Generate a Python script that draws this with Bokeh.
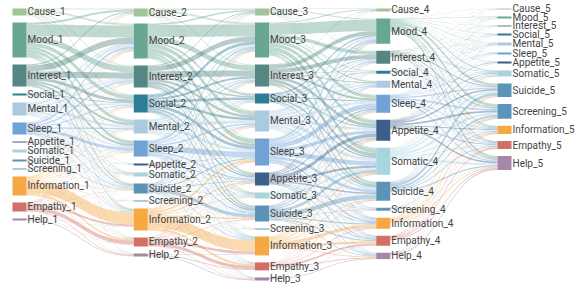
from bokeh.plotting import figure
from bokeh.models import Range1d
from bokeh.embed import file_html
from bokeh.resources import INLINE
from bokeh.core.properties import value
import numpy as np

# ---------------- data ----------------
categories = ["Cause", "Mood", "Interest", "Social", "Mental", "Sleep", "Appetite",
              "Somatic", "Suicide", "Screening", "Information", "Empathy", "Help"]
stages = [1, 2, 3, 4, 5]

cat_colors = ["#a3c498", "#68a892", "#548682", "#2e7c98", "#aacae2", "#70a2d6", "#3c5e8a",
              "#a8d4de", "#5c94b8", "#5b95be", "#f6a842", "#d27068", "#a886a6"]

# node sizes (per stage)
nodes_1 = [7, 35, 22, 2, 13, 12, 1, 3, 2, 1, 19, 9, 2]
nodes_2 = [8, 35, 22, 18, 14, 16, 2, 4, 10, 1, 22, 9, 3]
nodes_3 = [7, 35, 22, 10, 21, 27, 13, 6, 16, 1, 19, 8, 3]
nodes_4 = [3, 25, 13, 3, 7, 18, 21, 27, 19, 3, 11, 10, 6]
nodes_5 = [1, 2, 1, 2, 3, 2, 2, 6, 13, 15, 8, 8, 14]

# flows: rows = source category (stage k), columns = target category (stage k+1)
flows_1_2 = [
    [1, 2, 1, 1, 0.5, 0.5, 0, 0, 0.5, 0, 0.5, 0, 0],
    [2, 12, 6, 4, 3, 3, 0.3, 0.7, 1.5, 0.2, 1.3, 0.5, 0.5],
    [1, 6, 6, 3, 2, 2, 0.2, 0.5, 1, 0, 0.3, 0, 0],
    [0, 0.5, 0.3, 0.7, 0.2, 0.1, 0, 0, 0.1, 0, 0.1, 0, 0],
    [0.5, 2.5, 1.5, 1.5, 2.5, 1.5, 0.2, 0.4, 1, 0.1, 0.8, 0.3, 0.2],
    [0.5, 2, 1.5, 1, 1.3, 3, 0.2, 0.5, 1, 0.1, 0.6, 0.2, 0.1],
    [0, 0.2, 0.1, 0.1, 0.1, 0.2, 0.1, 0.1, 0.1, 0, 0, 0, 0],
    [0.2, 0.5, 0.3, 0.3, 0.3, 0.4, 0.1, 0.3, 0.3, 0, 0.2, 0.1, 0],
    [0, 0.3, 0.2, 0.2, 0.2, 0.2, 0, 0.1, 0.6, 0, 0.1, 0.1, 0],
    [0, 0.2, 0.1, 0.1, 0.1, 0.1, 0, 0, 0.1, 0.1, 0.1, 0.1, 0],
    [0.5, 1, 0.5, 0.7, 0.5, 0.5, 0.1, 0.2, 0.4, 0.3, 12, 1.8, 0.5],
    [0.2, 0.5, 0.3, 0.3, 0.2, 0.3, 0, 0.1, 0.3, 0.1, 2, 4, 0.7],
    [0, 0.1, 0.1, 0.1, 0.1, 0.1, 0, 0, 0.1, 0, 0.3, 0.3, 0.8],
]
flows_2_3 = [
    [1.5, 2, 1, 0.5, 0.8, 0.8, 0.3, 0.2, 0.4, 0, 0.3, 0.1, 0.1],
    [1.5, 12, 5, 2, 4, 4.5, 2, 0.8, 2, 0.2, 0.5, 0.3, 0.2],
    [0.8, 5, 6, 1.5, 2.5, 2.5, 1.2, 0.5, 1.5, 0, 0.3, 0.1, 0.1],
    [0.5, 3, 2, 2.5, 2.5, 3, 1.5, 0.5, 1.5, 0.1, 0.5, 0.2, 0.2],
    [0.5, 2, 1.5, 0.8, 3, 2.5, 1, 0.5, 1.2, 0.1, 0.5, 0.2, 0.2],
    [0.4, 2, 1.2, 0.6, 1.5, 5.5, 1.5, 0.6, 1.5, 0.1, 0.6, 0.3, 0.2],
    [0, 0.3, 0.2, 0.1, 0.2, 0.3, 0.5, 0.1, 0.2, 0, 0.1, 0, 0],
    [0.1, 0.5, 0.3, 0.2, 0.4, 0.6, 0.4, 0.6, 0.4, 0, 0.3, 0.1, 0.1],
    [0.2, 1, 0.6, 0.3, 0.8, 1.2, 0.7, 0.4, 3.5, 0.1, 0.7, 0.3, 0.2],
    [0, 0.1, 0.1, 0, 0.1, 0.2, 0.1, 0, 0.1, 0.1, 0.2, 0, 0],
    [0.3, 0.8, 0.6, 0.4, 0.8, 2, 1.3, 0.6, 1.5, 0.2, 11, 2, 0.5],
    [0.1, 0.3, 0.2, 0.1, 0.3, 0.6, 0.4, 0.2, 0.5, 0.1, 2.5, 3.2, 0.5],
    [0, 0.1, 0.1, 0, 0.1, 0.2, 0.1, 0, 0.2, 0, 0.5, 0.9, 0.8],
]
flows_3_4 = [
    [0.6, 1.3, 0.6, 0.1, 0.3, 0.6, 0.7, 0.9, 0.5, 0.1, 0.1, 0.1, 0.1],
    [0.9, 11.3, 3.5, 0.6, 1.2, 3.2, 3.5, 4.5, 2.2, 0.3, 0.8, 0.6, 0.4],
    [0.4, 4, 4, 0.4, 0.9, 2, 3, 3.3, 1.8, 0.2, 0.4, 0.4, 0.2],
    [0.1, 1.4, 0.7, 0.6, 0.4, 0.9, 1.1, 1.6, 1.2, 0.2, 0.4, 0.3, 0.1],
    [0.3, 2.5, 1.2, 0.4, 1.6, 2.2, 2.4, 3.2, 2.1, 0.3, 1.2, 0.8, 0.8],
    [0.2, 2.2, 1.1, 0.3, 1.1, 5, 3.3, 4.5, 3, 0.3, 1.8, 1.2, 1.0],
    [0.1, 0.8, 0.4, 0.2, 0.4, 1.1, 3.5, 2.2, 1.4, 0.3, 0.6, 0.6, 0.4],
    [0.1, 0.4, 0.2, 0.1, 0.2, 0.5, 0.8, 2.0, 0.7, 0.2, 0.3, 0.3, 0.2],
    [0.1, 0.7, 0.5, 0.1, 0.4, 1.0, 1.2, 2.8, 4.5, 0.5, 1.3, 1.2, 0.7],
    [0, 0.1, 0.1, 0, 0.1, 0.1, 0.1, 0.2, 0.1, 0.1, 0.1, 0, 0],
    [0.1, 0.4, 0.3, 0.1, 0.3, 0.8, 1.0, 1.3, 0.9, 0.3, 3.2, 2.4, 0.9],
    [0, 0.1, 0.1, 0, 0.1, 0.3, 0.3, 0.4, 0.4, 0.1, 0.6, 1.8, 0.8],
    [0, 0, 0, 0, 0, 0.1, 0.1, 0.2, 0.2, 0.1, 0.2, 0.3, 0.8],
]
flows_4_5 = [
    [0.1, 0.1, 0, 0.1, 0.1, 0, 0.1, 0.1, 0.2, 0.3, 0.1, 0.1, 0.2],
    [0.2, 0.5, 0.2, 0.3, 0.4, 0.3, 0.3, 1.0, 2.2, 2.8, 1.2, 1.1, 2.5],
    [0.1, 0.2, 0.2, 0.1, 0.2, 0.1, 0.1, 0.5, 1.1, 1.2, 0.6, 0.6, 1.0],
    [0, 0.1, 0, 0.2, 0.1, 0, 0, 0.1, 0.2, 0.3, 0.1, 0.2, 0.2],
    [0.1, 0.1, 0.1, 0.1, 0.4, 0.1, 0.1, 0.2, 0.5, 0.5, 0.2, 0.2, 0.4],
    [0.1, 0.2, 0.1, 0.2, 0.3, 0.5, 0.2, 0.6, 1.3, 1.6, 0.8, 0.8, 1.3],
    [0.1, 0.2, 0.1, 0.2, 0.3, 0.2, 0.6, 0.7, 1.5, 1.8, 0.9, 0.8, 1.6],
    [0.1, 0.3, 0.1, 0.3, 0.4, 0.3, 0.3, 1.5, 2, 2.4, 1.2, 1.1, 2.0],
    [0.1, 0.2, 0.1, 0.2, 0.3, 0.2, 0.2, 0.6, 3.0, 2.0, 0.9, 0.9, 1.3],
    [0, 0, 0, 0, 0.1, 0, 0, 0.1, 0.2, 0.5, 0.2, 0.1, 0.3],
    [0, 0.1, 0.1, 0.1, 0.1, 0.1, 0.1, 0.3, 0.5, 0.8, 1.2, 0.6, 1.0],
    [0, 0, 0, 0.1, 0.1, 0.1, 0, 0.2, 0.4, 0.5, 0.5, 1.1, 1.0],
    [0, 0, 0, 0, 0, 0, 0, 0.1, 0.3, 0.3, 0.3, 0.3, 1.2],
]

node_sizes = [nodes_1, nodes_2, nodes_3, nodes_4, nodes_5]
flows = [flows_1_2, flows_2_3, flows_3_4, flows_4_5]

# ---------------- layout ----------------
W, H = 578, 285
node_w = 14
x_first, x_last = 12, 497
top, bottom = 8, 280
gap = 7
n = len(categories)
ncol = len(stages)

vals = []
for k in range(ncol):
    col = []
    for i in range(n):
        v = node_sizes[k][i]
        if k > 0:
            v = max(v, sum(flows[k - 1][s][i] for s in range(n)))
        if k < ncol - 1:
            v = max(v, sum(flows[k][i]))
        col.append(v)
    vals.append(col)

ky = min((bottom - top - (n - 1) * gap) / sum(c) for c in vals)
xs_col = [x_first + k * (x_last - x_first) / (ncol - 1) for k in range(ncol)]

node_top = []
for k in range(ncol):
    y = top
    tops = []
    for i in range(n):
        tops.append(y)
        y += vals[k][i] * ky + gap
    node_top.append(tops)

# links
t = np.linspace(0, 1, 40)
def bez(a, b):
    return (1 - t) ** 3 * a + 3 * (1 - t) ** 2 * t * a + 3 * (1 - t) * t ** 2 * b + t ** 3 * b

lx, ly, lc = [], [], []
for k in range(ncol - 1):
    M = flows[k]
    in_start = {}
    for j in range(n):
        y = node_top[k + 1][j]
        for i in range(n):
            if M[i][j] > 0:
                in_start[(i, j)] = y
                y += M[i][j] * ky
    x0 = xs_col[k] + node_w
    x1 = xs_col[k + 1]
    xm = (x0 + x1) / 2
    xb = (1 - t) ** 3 * x0 + 3 * (1 - t) ** 2 * t * xm + 3 * (1 - t) * t ** 2 * xm + t ** 3 * x1
    for i in range(n):
        y = node_top[k][i]
        for j in range(n):
            v = M[i][j]
            if v <= 0:
                continue
            dy = v * ky
            sy, ty = y, in_start[(i, j)]
            y += dy
            top_curve = bez(sy, ty)
            bot_curve = bez(sy + dy, ty + dy)
            lx.append(list(xb) + list(xb[::-1]))
            ly.append(list(top_curve) + list(bot_curve[::-1]))
            lc.append(cat_colors[i])

p = figure(width=W, height=H, x_range=Range1d(0, W), y_range=Range1d(H, 0),
           x_axis_type=None, y_axis_type=None, output_backend="svg",
           toolbar_location=None, min_border=0)
p.grid.visible = False
p.outline_line_color = None
p.background_fill_color = "white"
p.border_fill_color = "white"

p.patches(xs=lx, ys=ly, fill_color=lc, fill_alpha=0.42, line_color=None)

# nodes
nl, nr, nt, nb, ncl, lab_x, lab_y, lab_t = [], [], [], [], [], [], [], []
for k in range(ncol):
    for i in range(n):
        h = vals[k][i] * ky
        nl.append(xs_col[k]); nr.append(xs_col[k] + node_w)
        nt.append(node_top[k][i]); nb.append(node_top[k][i] + max(h, 1.0))
        ncl.append(cat_colors[i])
        lab_x.append(xs_col[k] + node_w + 1)
        lab_y.append(node_top[k][i] + h / 2)
        lab_t.append(f"{categories[i]}_{stages[k]}")

p.quad(left=nl, right=nr, top=nt, bottom=nb, fill_color=ncl, line_color=None)
p.text(x=lab_x, y=lab_y, text=lab_t, text_font=value("Roboto"), text_font_size="10px",
       text_baseline="middle", text_align="left", text_color="#444444")

open("out.html", "w").write(file_html(p, INLINE))
